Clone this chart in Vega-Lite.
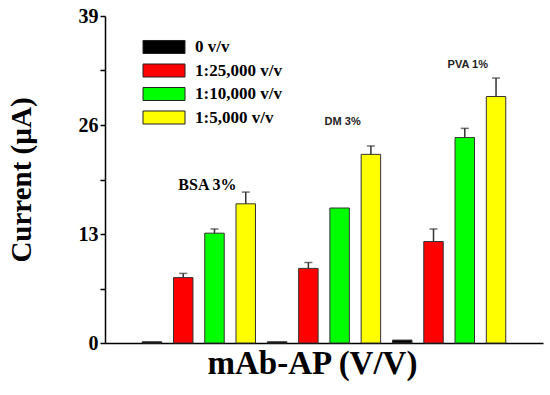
{
  "$schema": "https://vega.github.io/schema/vega-lite/v6.json",
  "width": 438,
  "height": 327,
  "autosize": {"type": "none"},
  "padding": {"left": 105, "top": 16, "right": 7, "bottom": 52},
  "background": "white",
  "config": {"view": {"stroke": null}, "font": "Liberation Serif"},
  "datasets": {
    "bars": [
      {"group": "BSA 3%", "series": "0 v/v", "value": 0.15, "hi": null},
      {"group": "BSA 3%", "series": "1:25,000 v/v", "value": 7.8, "hi": 8.3},
      {"group": "BSA 3%", "series": "1:10,000 v/v", "value": 13.1, "hi": 13.6},
      {"group": "BSA 3%", "series": "1:5,000 v/v", "value": 16.6, "hi": 18.0},
      {"group": "DM 3%", "series": "0 v/v", "value": 0.15, "hi": null},
      {"group": "DM 3%", "series": "1:25,000 v/v", "value": 8.9, "hi": 9.6},
      {"group": "DM 3%", "series": "1:10,000 v/v", "value": 16.1, "hi": null},
      {"group": "DM 3%", "series": "1:5,000 v/v", "value": 22.5, "hi": 23.5},
      {"group": "PVA 1%", "series": "0 v/v", "value": 0.35, "hi": null},
      {"group": "PVA 1%", "series": "1:25,000 v/v", "value": 12.1, "hi": 13.6},
      {"group": "PVA 1%", "series": "1:10,000 v/v", "value": 24.5, "hi": 25.6},
      {"group": "PVA 1%", "series": "1:5,000 v/v", "value": 29.4, "hi": 31.6}
    ],
    "labels": [
      {"group": "BSA 3%", "series": "1:10,000 v/v", "label": "BSA 3%", "pos": 18.8, "serif": true},
      {"group": "DM 3%", "series": "1:10,000 v/v", "label": "DM 3%", "pos": 26.4, "serif": false},
      {"group": "PVA 1%", "series": "1:10,000 v/v", "label": "PVA 1%", "pos": 33.2, "serif": false}
    ]
  },
  "encoding": {
    "x": {
      "field": "group",
      "type": "nominal",
      "sort": ["BSA 3%", "DM 3%", "PVA 1%"],
      "scale": {"paddingInner": 0, "paddingOuter": 0.25},
      "axis": {
        "labels": false,
        "ticks": false,
        "domainColor": "black",
        "domainWidth": 1.5,
        "title": "mAb-AP (V/V)",
        "titleFont": "Liberation Serif",
        "titleFontSize": 33,
        "titleFontWeight": "bold",
        "titleColor": "black",
        "titlePadding": 4,
        "titleX": 207
      }
    },
    "xOffset": {
      "field": "series",
      "type": "nominal",
      "scale": {
        "domain": ["0 v/v", "1:25,000 v/v", "1:10,000 v/v", "1:5,000 v/v"],
        "paddingInner": 0.377,
        "paddingOuter": 0.19
      }
    }
  },
  "layer": [
    {
      "data": {"name": "bars"},
      "mark": {"type": "bar", "stroke": "#333333", "strokeWidth": 1},
      "encoding": {
        "y": {
          "field": "value",
          "type": "quantitative",
          "scale": {"domain": [0, 39], "nice": false},
          "axis": {
            "values": [0, 6.5, 13, 19.5, 26, 32.5, 39],
            "labelExpr": "datum.value % 13 === 0 ? datum.label : ''",
            "grid": false,
            "domainColor": "black",
            "domainWidth": 1.5,
            "tickColor": "black",
            "tickWidth": 1.5,
            "tickSize": 5,
            "labelFont": "Liberation Serif",
            "labelFontSize": 20,
            "labelFontWeight": "bold",
            "labelColor": "black",
            "labelPadding": 2,
            "title": "Current (µA)",
            "titleFont": "Liberation Serif",
            "titleFontSize": 29,
            "titleFontWeight": "bold",
            "titleColor": "black",
            "titlePadding": 42
          }
        },
        "color": {
          "field": "series",
          "type": "nominal",
          "scale": {
            "domain": ["0 v/v", "1:25,000 v/v", "1:10,000 v/v", "1:5,000 v/v"],
            "range": ["#000000", "#ff0000", "#00ff00", "#ffff00"]
          },
          "legend": {
            "orient": "none",
            "legendX": 48,
            "legendY": 20,
            "title": null,
            "symbolType": "M-2,-0.62H2V0.62H-2Z",
            "symbolSize": 441,
            "symbolStrokeColor": "#222222",
            "symbolStrokeWidth": 1,
            "symbolOpacity": 1,
            "labelFont": "Liberation Serif",
            "labelFontSize": 17,
            "labelFontWeight": "bold",
            "labelColor": "black",
            "labelOffset": 20,
            "rowPadding": 3.5
          }
        }
      }
    },
    {
      "data": {"name": "bars"},
      "transform": [{"filter": "datum.hi != null"}],
      "mark": {"type": "rule", "color": "#333333", "strokeWidth": 1.5},
      "encoding": {
        "y": {"field": "value", "type": "quantitative"},
        "y2": {"field": "hi"}
      }
    },
    {
      "data": {"name": "bars"},
      "transform": [{"filter": "datum.hi != null"}],
      "mark": {"type": "tick", "color": "#333333", "size": 8, "thickness": 1.5, "orient": "horizontal"},
      "encoding": {
        "y": {"field": "hi", "type": "quantitative"}
      }
    },
    {
      "data": {"name": "labels"},
      "transform": [{"filter": "datum.serif"}],
      "mark": {"type": "text", "font": "Liberation Serif", "fontSize": 16, "fontWeight": "bold", "color": "black", "dx": -7},
      "encoding": {
        "y": {"field": "pos", "type": "quantitative"},
        "text": {"field": "label"}
      }
    },
    {
      "data": {"name": "labels"},
      "transform": [{"filter": "!datum.serif"}],
      "mark": {"type": "text", "font": "Liberation Sans", "fontSize": 11, "fontWeight": "bold", "color": "#222222", "dx": 3},
      "encoding": {
        "y": {"field": "pos", "type": "quantitative"},
        "text": {"field": "label"}
      }
    }
  ]
}
